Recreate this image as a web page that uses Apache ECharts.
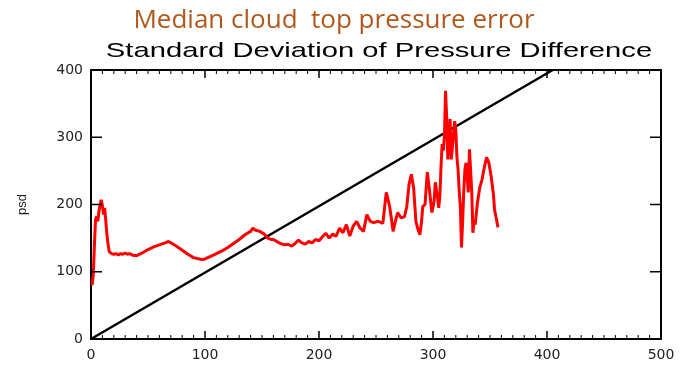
<!DOCTYPE html>
<html>
<head>
<meta charset="utf-8">
<style>
  html, body { margin: 0; padding: 0; background: #fff; }
  #chart { width: 683px; height: 365px; }
</style>
<script src="https://cdn.jsdelivr.net/npm/echarts@6/dist/echarts.min.js"></script>
</head>
<body>
<div id="chart"></div>
<script>
// Pressure difference bins (x) and the standard deviation in each bin (psd)
const pressureDiff = [
  1, 2, 3, 4, 5, 6, 7, 8, 9, 10, 11, 12, 13, 14, 15, 16, 17, 18,
  20, 22, 24, 26, 28, 30, 32, 34, 36, 38, 40, 45, 50, 55, 60, 65, 68, 70,
  75, 80, 85, 90, 95, 98, 100, 105, 110, 115, 120, 125, 130, 135, 140, 142,
  144, 148, 152, 155, 158, 160, 163, 166, 170, 173, 176, 179, 182, 185, 188,
  191, 194, 197, 200, 203, 206, 209, 212, 215, 218, 221, 224, 227, 230, 233,
  236, 239, 242, 245, 248, 252, 256, 259, 262, 265, 267, 269, 272, 275, 277,
  279, 281, 283, 285, 287, 288.5, 290, 291, 293, 295, 297, 299, 301, 302, 304,
  305, 306, 307, 308, 309, 310, 311, 312, 313, 314, 315, 316, 317, 319, 320,
  321, 322, 323, 324, 325, 326, 327, 328, 329, 330, 331, 332, 333, 334, 335,
  336, 337, 339, 341, 343, 345, 347, 349, 351, 353, 354, 356, 357
];
const psd = [
  80, 95, 140, 178, 182, 175, 190, 200, 207, 198, 185, 195, 175, 155, 140, 130, 128, 127,
  126, 127, 125, 127, 126, 128, 126, 127, 125, 124, 124, 128, 133, 137, 140, 143, 145, 143,
  138, 132, 126, 121, 119, 118, 119, 123, 127, 131, 136, 142, 148, 155, 160, 165,
  162, 160, 156, 150, 148, 148, 145, 142, 140, 141, 138, 142, 147, 143, 141,
  145, 143, 148, 146, 152, 157, 150, 156, 153, 165, 158, 170, 153, 168, 175,
  165, 160, 185, 175, 173, 175, 172, 218, 197, 160, 175, 188, 180, 182, 197,
  230, 245, 225, 175, 162, 155, 175, 197, 200, 248, 220, 188, 205, 233, 210,
  195, 212, 255, 290, 280, 300, 369, 330, 267, 300, 327, 267, 285, 324, 310,
  270, 252, 220, 197, 136, 175, 220, 252, 262, 240, 218, 282, 250, 218, 158,
  175, 170, 203, 225, 237, 255, 270, 262, 242, 215, 192, 175, 166
];
// Diagonal reference line
const diagonal = [[0, 0], [405, 400]];

const xTicks = { min: 0, max: 500, interval: 100, minorStep: 10 };
const yTicks = { min: 0, max: 400, interval: 100 };

const mainTitle = 'Median cloud  top pressure error';
const plotTitle = 'Standard Deviation of Pressure Difference';
const yName = 'psd';

// Tick marks drawn inward on all four sides of the frame
const TICK_X_MAJOR = 0, TICK_X_MINOR = 1, TICK_Y_MAJOR = 2;
const tickItems = [];
for (let v = xTicks.min; v <= xTicks.max; v += xTicks.minorStep) {
  tickItems.push([v, v % xTicks.interval === 0 ? TICK_X_MAJOR : TICK_X_MINOR]);
}
for (let v = yTicks.min; v <= yTicks.max; v += yTicks.interval) {
  tickItems.push([v, TICK_Y_MAJOR]);
}

function renderTick(params, api) {
  const v = api.value(0);
  const kind = api.value(1);
  const style = { stroke: '#000', lineWidth: kind === TICK_X_MINOR ? 1 : 1.5 };
  if (kind === TICK_Y_MAJOR) {
    const l = api.coord([xTicks.min, v]);
    const r = api.coord([xTicks.max, v]);
    return {
      type: 'group',
      children: [
        { type: 'line', shape: { x1: l[0], y1: l[1], x2: l[0] + 11, y2: l[1] }, style: style },
        { type: 'line', shape: { x1: r[0], y1: r[1], x2: r[0] - 11, y2: r[1] }, style: style }
      ]
    };
  }
  const len = kind === TICK_X_MAJOR ? 8 : 4;
  const b = api.coord([v, yTicks.min]);
  const t = api.coord([v, yTicks.max]);
  return {
    type: 'group',
    children: [
      { type: 'line', shape: { x1: b[0], y1: b[1], x2: b[0], y2: b[1] - len }, style: style },
      { type: 'line', shape: { x1: t[0], y1: t[1], x2: t[0], y2: t[1] + len }, style: style }
    ]
  };
}

const chart = echarts.init(document.getElementById('chart'), null, { renderer: 'canvas' });

const labelStyle = { fontFamily: 'DejaVu Sans', fontSize: 14, color: '#222' };

function xAxisDef(pos, showLabels) {
  return {
    type: 'value', position: pos,
    min: xTicks.min, max: xTicks.max, interval: xTicks.interval,
    axisLine: { show: true, onZero: false, lineStyle: { color: '#000', width: 2 } },
    axisTick: { show: false },
    splitLine: { show: false },
    axisLabel: Object.assign({ show: showLabels, margin: 9 }, labelStyle)
  };
}
function yAxisDef(pos, showLabels) {
  return {
    type: 'value', position: pos,
    min: yTicks.min, max: yTicks.max, interval: yTicks.interval,
    name: showLabels ? yName : '',
    nameLocation: 'middle', nameGap: 62, nameRotate: 90,
    nameTextStyle: { fontFamily: 'Liberation Sans', fontSize: 13, color: '#222' },
    axisLine: { show: true, onZero: false, lineStyle: { color: '#000', width: 2 } },
    axisTick: { show: false },
    splitLine: { show: false },
    axisLabel: Object.assign({ show: showLabels, margin: 8 }, labelStyle)
  };
}

chart.setOption({
  backgroundColor: '#fff',
  animation: false,
  grid: { left: 91, right: 22, top: 70, bottom: 26 },
  xAxis: [xAxisDef('bottom', true), xAxisDef('top', false)],
  yAxis: [yAxisDef('left', true), yAxisDef('right', false)],
  graphic: [
    {
      type: 'text', x: 334, y: 21,
      style: { text: mainTitle, font: '26px "Open Sans"', fill: '#b0581c', align: 'center', verticalAlign: 'middle' }
    },
    {
      type: 'text', x: 379, y: 51, scaleX: 1.39, originX: 0, originY: 0,
      style: { text: plotTitle, font: '21px "Liberation Sans"', fill: '#000', align: 'center', verticalAlign: 'middle' }
    }
  ],
  series: [
    {
      type: 'custom', xAxisIndex: 0, yAxisIndex: 0,
      coordinateSystem: 'cartesian2d', clip: false, silent: true, z: 5,
      renderItem: renderTick,
      data: tickItems
    },
    {
      type: 'line', xAxisIndex: 0, yAxisIndex: 0,
      data: diagonal, showSymbol: false, silent: true,
      lineStyle: { color: '#000', width: 2.5 }
    },
    {
      type: 'line', xAxisIndex: 0, yAxisIndex: 0,
      data: pressureDiff.map((x, i) => [x, psd[i]]),
      showSymbol: false, silent: true,
      lineStyle: { color: '#ff0000', width: 3 }
    }
  ]
});
</script>
</body>
</html>
